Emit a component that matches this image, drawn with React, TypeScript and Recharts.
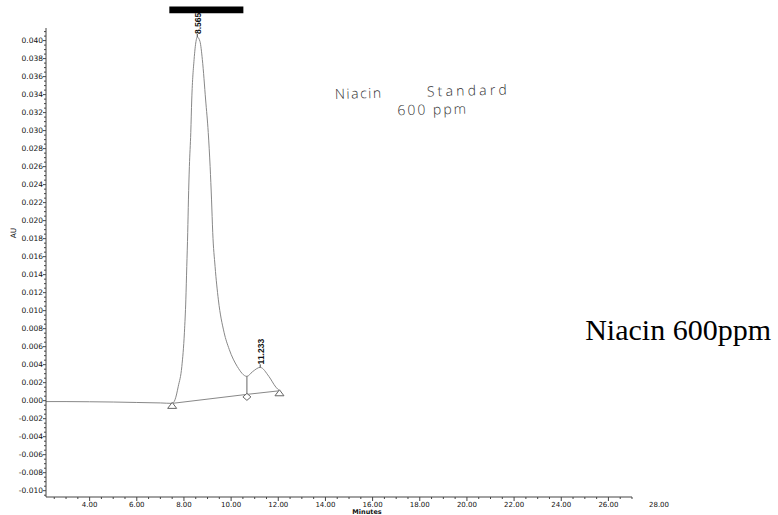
import React from 'react';
import { ComposedChart, Line, Scatter, XAxis, YAxis, ReferenceArea, ReferenceDot } from 'recharts';

// chromatogram trace: minutes vs AU
const traceTimes = [
  2.15, 3, 4, 5, 6, 7, 7.5, 7.62, 7.76, 7.91, 8.02, 8.08, 8.12, 8.16, 8.19, 8.23, 8.29, 8.33, 8.43,
  8.51, 8.565, 8.68, 8.78, 8.92, 9.03, 9.11, 9.17, 9.22, 9.32, 9.46, 9.7, 9.92, 10.26, 10.67, 10.9,
  11.233, 11.6, 11.9, 12.05,
];
const traceValues = [
  -0.0001, -0.0001, -0.00012, -0.00015, -0.0002, -0.00025, -0.0003, 0.0001, 0.0016, 0.0038, 0.0076,
  0.0112, 0.0149, 0.0187, 0.0223, 0.026, 0.0298, 0.0334, 0.0379, 0.0399, 0.0404, 0.0399, 0.0379,
  0.0334, 0.0298, 0.026, 0.0223, 0.0187, 0.0149, 0.0112, 0.0076, 0.0057, 0.0038, 0.0027, 0.0032,
  0.0037, 0.0027, 0.0015, 0.0011,
];

// integration baseline and drop line
const baseTimes = [7.5, 10.67, 12.05];
const baseValues = [-0.0003, 0.0007, 0.0011];
const dropTimes = [10.67, 10.67];
const dropValues = [0.0027, 0.0007];

// peaks
const peakTimes = [8.565, 11.233];
const peakValues = [0.0404, 0.0037];
const peakLabels = ['8.565', '11.233'];

// ticks
const xMajor = [4, 6, 8, 10, 12, 14, 16, 18, 20, 22, 24, 26];
const xTicks: number[] = [];
for (let i = 5; i <= 54; i++) xTicks.push(i / 2);
const yTicks: number[] = [];
for (let i = -21; i <= 82; i++) yTicks.push(i * 0.0005);

const trace = traceTimes.map((t, i) => ({ t, v: traceValues[i] }));
const base = baseTimes.map((t, i) => ({ t, v: baseValues[i] }));
const drop = dropTimes.map((t, i) => ({ t, v: dropValues[i] }));
const triangles = [base[0], base[2]];
const diamonds = [base[1]];

const tickFont = '"DejaVu Sans", sans-serif';

const XTick = (props: any) => {
  const { x, y, payload } = props;
  const v = payload.value;
  const major = xMajor.includes(v);
  return (
    <g>
      <line x1={x} x2={x} y1={y} y2={y + (major ? 4 : 2)} stroke="#444" />
      {major && (
        <text x={x} y={y + 10} textAnchor="middle" fontSize={7} fontFamily={tickFont} fill="#111">
          {v.toFixed(2)}
        </text>
      )}
    </g>
  );
};

const YTick = (props: any) => {
  const { x, y, payload } = props;
  const v = payload.value;
  const major = Math.abs(v / 0.002 - Math.round(v / 0.002)) < 1e-6;
  return (
    <g>
      <line x1={x - (major ? 3 : 2)} x2={x} y1={y} y2={y} stroke="#444" />
      {major && (
        <text x={x - 3} y={y + 2.5} textAnchor="end" fontSize={7.5} fontFamily={tickFont} fill="#111">
          {(Math.abs(v) < 1e-9 ? 0 : v).toFixed(3)}
        </text>
      )}
    </g>
  );
};

const Triangle = (props: any) => {
  const { cx, cy } = props;
  return <path d={`M${cx},${cy - 1} L${cx + 4.5},${cy + 5} L${cx - 4.5},${cy + 5} Z`} fill="#fff" stroke="#666" />;
};

const Diamond = (props: any) => {
  const { cx, cy } = props;
  return <path d={`M${cx},${cy - 1} L${cx + 4},${cy + 2.5} L${cx},${cy + 6} L${cx - 4},${cy + 2.5} Z`} fill="#fff" stroke="#666" />;
};

const peakShape = (label: string) => (props: any) => {
  const { cx, cy } = props;
  return (
    <g>
      <line x1={cx} x2={cx} y1={cy} y2={cy - 3} stroke="#444" />
      <text
        x={cx + 3.5}
        y={cy - 3}
        transform={`rotate(-90 ${cx + 3.5} ${cy - 3})`}
        fontSize={8.5}
        fontWeight="bold"
        fontFamily='"Liberation Sans Narrow", "Liberation Sans", sans-serif'
        fill="#111"
      >
        {label}
      </text>
    </g>
  );
};

const hand = '"Open Sans", sans-serif';

export default function App() {
  return (
    <div style={{ position: 'absolute', left: 0, top: 0, width: 778, height: 515, background: '#fff' }}>
      <ComposedChart width={778} height={515} margin={{ top: 28, right: 146, bottom: 0, left: 6 }}>
        <XAxis
          type="number"
          dataKey="t"
          domain={[2.15, 27]}
          allowDataOverflow
          ticks={xTicks}
          interval={0}
          tick={<XTick />}
          tickLine={false}
          tickSize={0}
          tickMargin={0}
          height={18}
          axisLine={{ stroke: '#444' }}
        />
        <YAxis
          type="number"
          dataKey="v"
          domain={[-0.0107, 0.0414]}
          allowDataOverflow
          ticks={yTicks}
          interval={0}
          tick={<YTick />}
          tickLine={false}
          tickSize={0}
          tickMargin={0}
          width={40}
          axisLine={{ stroke: '#444' }}
        />
        <ReferenceArea x1={7.38} x2={10.52} y1={0.04305} y2={0.0438} ifOverflow="visible" fill="#000" fillOpacity={1} stroke="none" />
        <Line data={trace} dataKey="v" type="monotone" stroke="#888" strokeWidth={1} dot={false} isAnimationActive={false} />
        <Line data={base} dataKey="v" type="linear" stroke="#888" strokeWidth={1} dot={false} isAnimationActive={false} />
        <Line data={drop} dataKey="v" type="linear" stroke="#666" strokeWidth={1} dot={false} isAnimationActive={false} />
        <Scatter data={triangles} dataKey="v" shape={<Triangle />} isAnimationActive={false} />
        <Scatter data={diamonds} dataKey="v" shape={<Diamond />} isAnimationActive={false} />
        {peakTimes.map((t, i) => (
          <ReferenceDot key={i} x={t} y={peakValues[i]} r={0} ifOverflow="visible" shape={peakShape(peakLabels[i])} />
        ))}
      </ComposedChart>
      <svg width={778} height={515} style={{ position: 'absolute', left: 0, top: 0, pointerEvents: 'none' }}>
        <text x={659} y={507} textAnchor="middle" fontSize={7} fontFamily={tickFont} fill="#111">28.00</text>
        <text x={367} y={513.5} textAnchor="middle" fontSize={6.5} fontWeight="bold" fontFamily={tickFont} fill="#111">Minutes</text>
        <text x={16} y={233} textAnchor="middle" transform="rotate(-90 16 233)" fontSize={7.5} fontFamily={tickFont} fill="#111">AU</text>
        <g transform="rotate(-1.5 335 99)" fontFamily={hand} fontSize={14} fontWeight={300} fill="#333">
          <text x={335} y={99} letterSpacing={1.5}>Niacin</text>
          <text x={427} y={99} letterSpacing={3.2}>Standard</text>
          <text x={397} y={117} letterSpacing={2}>600 ppm</text>
        </g>
        <text x={771} y={340} textAnchor="end" fontSize={30} fontFamily='"Liberation Serif", "Times New Roman", serif' fill="#000">
          Niacin 600ppm
        </text>
      </svg>
    </div>
  );
}
